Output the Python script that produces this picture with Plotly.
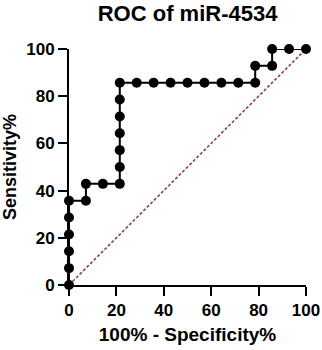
import plotly.graph_objects as go

# ROC points (100% - Specificity%, Sensitivity%)
fpr = [0, 0, 0, 0, 0, 0, 7.14, 7.14, 14.29, 21.43, 21.43, 21.43, 21.43, 21.43, 21.43, 21.43,
       28.57, 35.71, 42.86, 50.0, 57.14, 64.29, 71.43, 78.57, 78.57, 85.71, 85.71, 92.86, 100]
tpr = [0, 7.14, 14.29, 21.43, 28.57, 35.71, 35.71, 42.86, 42.86, 42.86, 50.0, 57.14, 64.29, 71.43, 78.57, 85.71,
       85.71, 85.71, 85.71, 85.71, 85.71, 85.71, 85.71, 85.71, 92.86, 92.86, 100, 100, 100]
ref_x = [0, 100]
ref_y = [0, 100]
ticks = [0, 20, 40, 60, 80, 100]

FONT = "Liberation Sans, Arial, sans-serif"

fig = go.Figure()
fig.add_trace(go.Scatter(x=ref_x, y=ref_y, mode="lines",
                         line=dict(color="#8a3f50", width=1.6, dash="3px,2px"),
                         hoverinfo="skip", cliponaxis=False))
fig.add_trace(go.Scatter(x=fpr, y=tpr, mode="lines+markers",
                         line=dict(color="black", width=2),
                         marker=dict(color="black", size=10),
                         cliponaxis=False))

axis_common = dict(range=[0, 100], tickvals=ticks, ticks="outside", ticklen=9, tickwidth=2,
                   tickcolor="black", showline=True, linewidth=2, linecolor="black",
                   showgrid=False, zeroline=False, fixedrange=True, automargin=False,
                   tickfont=dict(family=FONT, size=17, color="black", weight="bold"))

fig.update_xaxes(**axis_common,
                 title=dict(text="100% - Specificity%", standoff=8,
                            font=dict(family=FONT, size=19, color="black", weight="bold")))
fig.update_yaxes(**axis_common,
                 title=dict(text="Sensitivity%", standoff=8,
                            font=dict(family=FONT, size=18, color="black", weight="bold")))

fig.update_layout(
    width=322, height=350,
    margin=dict(l=69, r=16, t=49, b=65, autoexpand=False),
    paper_bgcolor="white", plot_bgcolor="white",
    showlegend=False,
    title=dict(text="ROC of miR-4534", x=0.5825, xanchor="center", y=0.963, yanchor="middle",
               font=dict(family=FONT, size=22, color="black", weight="bold")),
)

fig.write_html("out.html", config={"displayModeBar": False, "staticPlot": True},
               post_script="document.body.style.margin='0';")
